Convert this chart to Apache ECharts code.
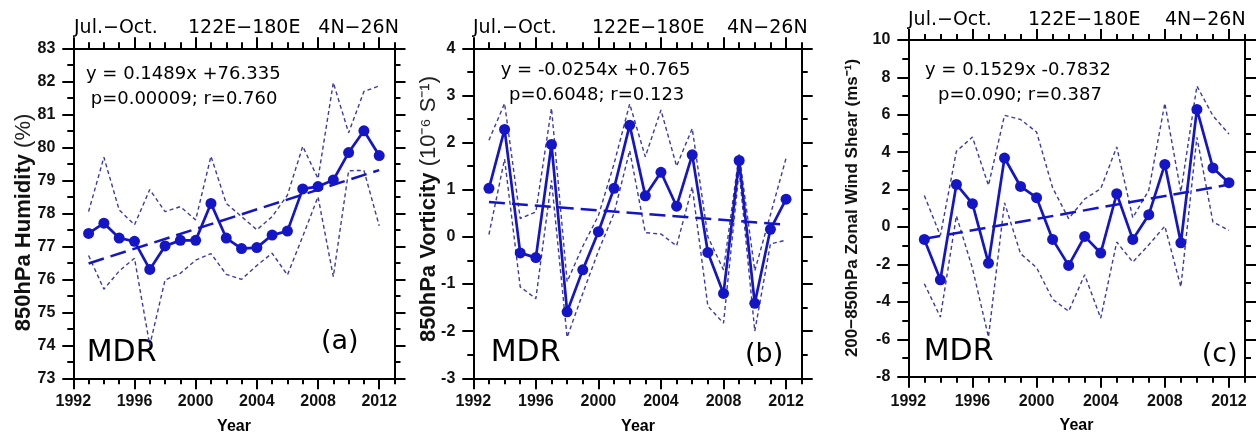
<!DOCTYPE html>
<html><head><meta charset="utf-8">
<script src="https://cdn.jsdelivr.net/npm/echarts@6/dist/echarts.min.js"></script>
<style>html,body{margin:0;padding:0;background:#fff}#c{width:1259px;height:440px}</style>
</head><body><div id="c"></div>
<script>
// ---------- data ----------
const years = [1993,1994,1995,1996,1997,1998,1999,2000,2001,2002,2003,2004,2005,2006,2007,2008,2009,2010,2011,2012];
const trendYears = [1993, 2012];
const majorYears = [1992,1996,2000,2004,2008,2012];

const humidityMean  = [77.39,77.70,77.25,77.15,76.30,77.01,77.18,77.18,78.30,77.25,76.93,76.96,77.34,77.46,78.74,78.81,79.01,79.84,80.50,79.75];
const humidityUpper = [78.05,79.70,78.10,77.65,78.72,78.05,78.20,77.80,79.73,78.30,77.90,77.50,77.90,78.55,80.03,79.05,81.96,80.44,81.69,81.86];
const humidityLower = [76.72,75.70,76.25,76.64,74.00,75.98,76.18,76.58,76.78,76.15,76.00,76.42,76.79,76.13,77.30,78.50,76.08,79.29,79.30,77.62];
const humidityTrend = [76.48, 79.31];

const vortMean  = [1.03,2.28,-0.34,-0.44,1.96,-1.59,-0.70,0.11,1.03,2.37,0.87,1.37,0.65,1.74,-0.33,-1.20,1.62,-1.41,0.16,0.80];
const vortUpper = [2.05,2.83,0.39,0.53,2.73,-0.95,-0.20,0.45,1.55,2.82,1.70,2.69,1.50,2.30,0.00,-0.70,1.75,-0.72,0.47,1.67];
const vortLower = [0.05,1.65,-1.06,-1.31,1.20,-2.13,-1.20,-0.30,0.50,1.83,0.09,0.06,-0.19,1.06,-1.47,-1.83,1.40,-2.00,-0.15,-0.07];
const vortTrend = [0.74, 0.257];

const shearMean  = [-0.66,-2.82,2.28,1.25,-1.93,3.69,2.17,1.57,-0.66,-2.05,-0.50,-1.39,1.78,-0.66,0.66,3.35,-0.84,6.29,3.16,2.37];
const shearUpper = [1.69,-0.45,4.05,4.81,2.23,5.97,5.75,5.08,2.10,0.45,1.50,2.05,4.28,0.50,1.97,6.62,1.88,7.54,5.95,4.97];
const shearLower = [-3.03,-4.81,0.60,-2.20,-5.88,1.30,-1.42,-2.17,-3.86,-4.50,-2.55,-4.87,-0.80,-1.87,-0.95,0.05,-3.20,4.80,0.27,-0.18];
const shearTrend = [-0.63, 2.27];

const topLabels = ['Jul.\u2212Oct.', '122E\u2212180E', '4N\u221226N'];
const equations = [
  ['y = 0.1489x +76.335', 'p=0.00009; r=0.760'],
  ['y = -0.0254x +0.765', 'p=0.6048; r=0.123'],
  ['y = 0.1529x -0.7832', 'p=0.090; r=0.387']
];
const panelTags = ['(a)', '(b)', '(c)'];

// ---------- layout ----------
const panels = [
  {grid:{left:73.3, top:48.3, width:321.2, height:330}, ymin:73, ymax:83, yint:1, mean:humidityMean, up:humidityUpper, lo:humidityLower, trend:humidityTrend, xMargin:15,
   top:[[74,28],[188,28],[318.3,28]], eq:[[86,74],[90.7,99.5]], mdr:[86.7,353], tag:[321,342], year:[234,427]},
  {grid:{left:473.3, top:48.3, width:328.4, height:330}, ymin:-3, ymax:4, yint:1, mean:vortMean, up:vortUpper, lo:vortLower, trend:vortTrend, xMargin:15,
   top:[[473,28],[592,28],[727,28]], eq:[[500.7,70.5],[509,95.5]], mdr:[490.7,353], tag:[745,355], year:[638,427]},
  {grid:{left:908.3, top:40, width:336.7, height:336.7}, ymin:-8, ymax:10, yint:2, mean:shearMean, up:shearUpper, lo:shearLower, trend:shearTrend, xMargin:17,
   top:[[908,20.5],[1028,20.5],[1165,20.5]], eq:[[925,70.5],[938,95.5]], mdr:[923.7,352.5], tag:[1201.7,354.5], year:[1076.5,426]}
];

const BLUE = '#1515c8';
const BOUND = '#3b3ba5';
const tickFont = {fontFamily:'Liberation Sans', fontWeight:'bold', fontSize:16, color:'#111'};
const grids = [], xAxes = [], yAxes = [], series = [], graphics = [];

panels.forEach((p, i) => {
  grids.push(p.grid);
  const baseX = {gridIndex:i, type:'value', min:1992, max:2013, splitLine:{show:false}};
  const line = {show:true, onZero:false, lineStyle:{color:'#000', width:2}};
  const noLine = {show:false, onZero:false};
  // bottom minor (with labels + line)
  xAxes.push(Object.assign({}, baseX, {position:'bottom', interval:1, axisLine:line,
    axisTick:{show:true, length:6, lineStyle:{color:'#000', width:2}},
    axisLabel:Object.assign({margin:p.xMargin, formatter:v => (v % 4 === 0 ? String(v) : '')}, tickFont)}));
  // bottom major
  xAxes.push(Object.assign({}, baseX, {position:'bottom', interval:1, axisLine:noLine, axisLabel:{show:false},
    axisTick:{show:true, length:11, customValues:majorYears, lineStyle:{color:'#000', width:2}}}));
  // top minor
  xAxes.push(Object.assign({}, baseX, {position:'top', interval:1, axisLine:line, axisLabel:{show:false},
    axisTick:{show:true, length:6, lineStyle:{color:'#000', width:2}}}));
  // top major
  xAxes.push(Object.assign({}, baseX, {position:'top', interval:1, axisLine:noLine, axisLabel:{show:false},
    axisTick:{show:true, length:11, customValues:majorYears, lineStyle:{color:'#000', width:2}}}));

  const baseY = {gridIndex:i, type:'value', min:p.ymin, max:p.ymax, interval:p.yint, splitLine:{show:false},
    axisLine:{show:true, onZero:false, lineStyle:{color:'#000', width:2}},
    axisTick:{show:true, length:11, lineStyle:{color:'#000', width:2}},
    minorTick:{show:true, splitNumber:2, length:6, lineStyle:{color:'#000', width:2}}};
  yAxes.push(Object.assign({}, baseY, {position:'left', axisLabel:Object.assign({margin:18}, tickFont)}));
  yAxes.push(Object.assign({}, baseY, {position:'right', axisLabel:{show:false}}));

  const xi = 4*i, yi = 2*i;
  const mk = arr => years.map((y,k) => [y, arr[k]]);
  series.push({type:'line', xAxisIndex:xi, yAxisIndex:yi, data:mk(p.up), symbol:'none', silent:true,
    lineStyle:{color:BOUND, width:1.4, type:[4,3]}, z:2});
  series.push({type:'line', xAxisIndex:xi, yAxisIndex:yi, data:mk(p.lo), symbol:'none', silent:true,
    lineStyle:{color:BOUND, width:1.4, type:[4,3]}, z:2});
  series.push({type:'line', xAxisIndex:xi, yAxisIndex:yi, data:trendYears.map((y,k)=>[y,p.trend[k]]), symbol:'none', silent:true,
    lineStyle:{color:BLUE, width:2.5, type:[16,7]}, z:3});
  series.push({type:'line', xAxisIndex:xi, yAxisIndex:yi, data:mk(p.mean), symbol:'circle', symbolSize:11, silent:true,
    itemStyle:{color:BLUE}, lineStyle:{color:BLUE, width:2.7}, z:4});

  const T = (x, y, text, font, extra) => graphics.push(Object.assign({type:'text', x:x, y:y, silent:true,
    style:Object.assign({text:text, font:font, fill:'#000', textAlign:'left', textVerticalAlign:'middle'}, extra || {})}));
  p.top.forEach((pos, k) => T(pos[0], pos[1], topLabels[k], '19px "DejaVu Sans"'));
  T(p.eq[0][0], p.eq[0][1], equations[i][0], '18px "DejaVu Sans"');
  T(p.eq[1][0], p.eq[1][1], equations[i][1], '18px "DejaVu Sans"');
  T(p.mdr[0], p.mdr[1], 'MDR', '30px "DejaVu Sans"');
  T(p.tag[0], p.tag[1], panelTags[i], '27px "DejaVu Sans"');
  T(p.year[0], p.year[1], 'Year', 'bold 16px "Liberation Sans"', {textAlign:'center'});
});

// y-axis titles (rotated)
const yTitles = [
  {x:24, y:222.5, rich:'{b|850hPa Humidity }{n|(%)}', size:22},
  {x:429, y:209, rich:'{b|850hPa Vorticity }{n|(10\u207B\u2076 S\u207B\u00B9)}', size:22},
  {x:852.5, y:208, rich:'{b|200\u2212850hPa Zonal Wind Shear (ms\u207B\u00B9)}', size:17}
];
yTitles.forEach(t => graphics.push({type:'text', x:t.x, y:t.y, rotation:Math.PI/2, silent:true,
  style:{text:t.rich, textAlign:'center', textVerticalAlign:'middle', fill:'#111',
    rich:{b:{fontFamily:'Liberation Sans', fontWeight:'bold', fontSize:t.size, fill:'#111'},
          n:{fontFamily:'Liberation Sans', fontWeight:'normal', fontSize:t.size, fill:'#222'}}}}));

const chart = echarts.init(document.getElementById('c'), null, {renderer:'canvas'});
chart.setOption({animation:false, backgroundColor:'#fff', grid:grids, xAxis:xAxes, yAxis:yAxes, series:series, graphic:graphics});
</script></body></html>
